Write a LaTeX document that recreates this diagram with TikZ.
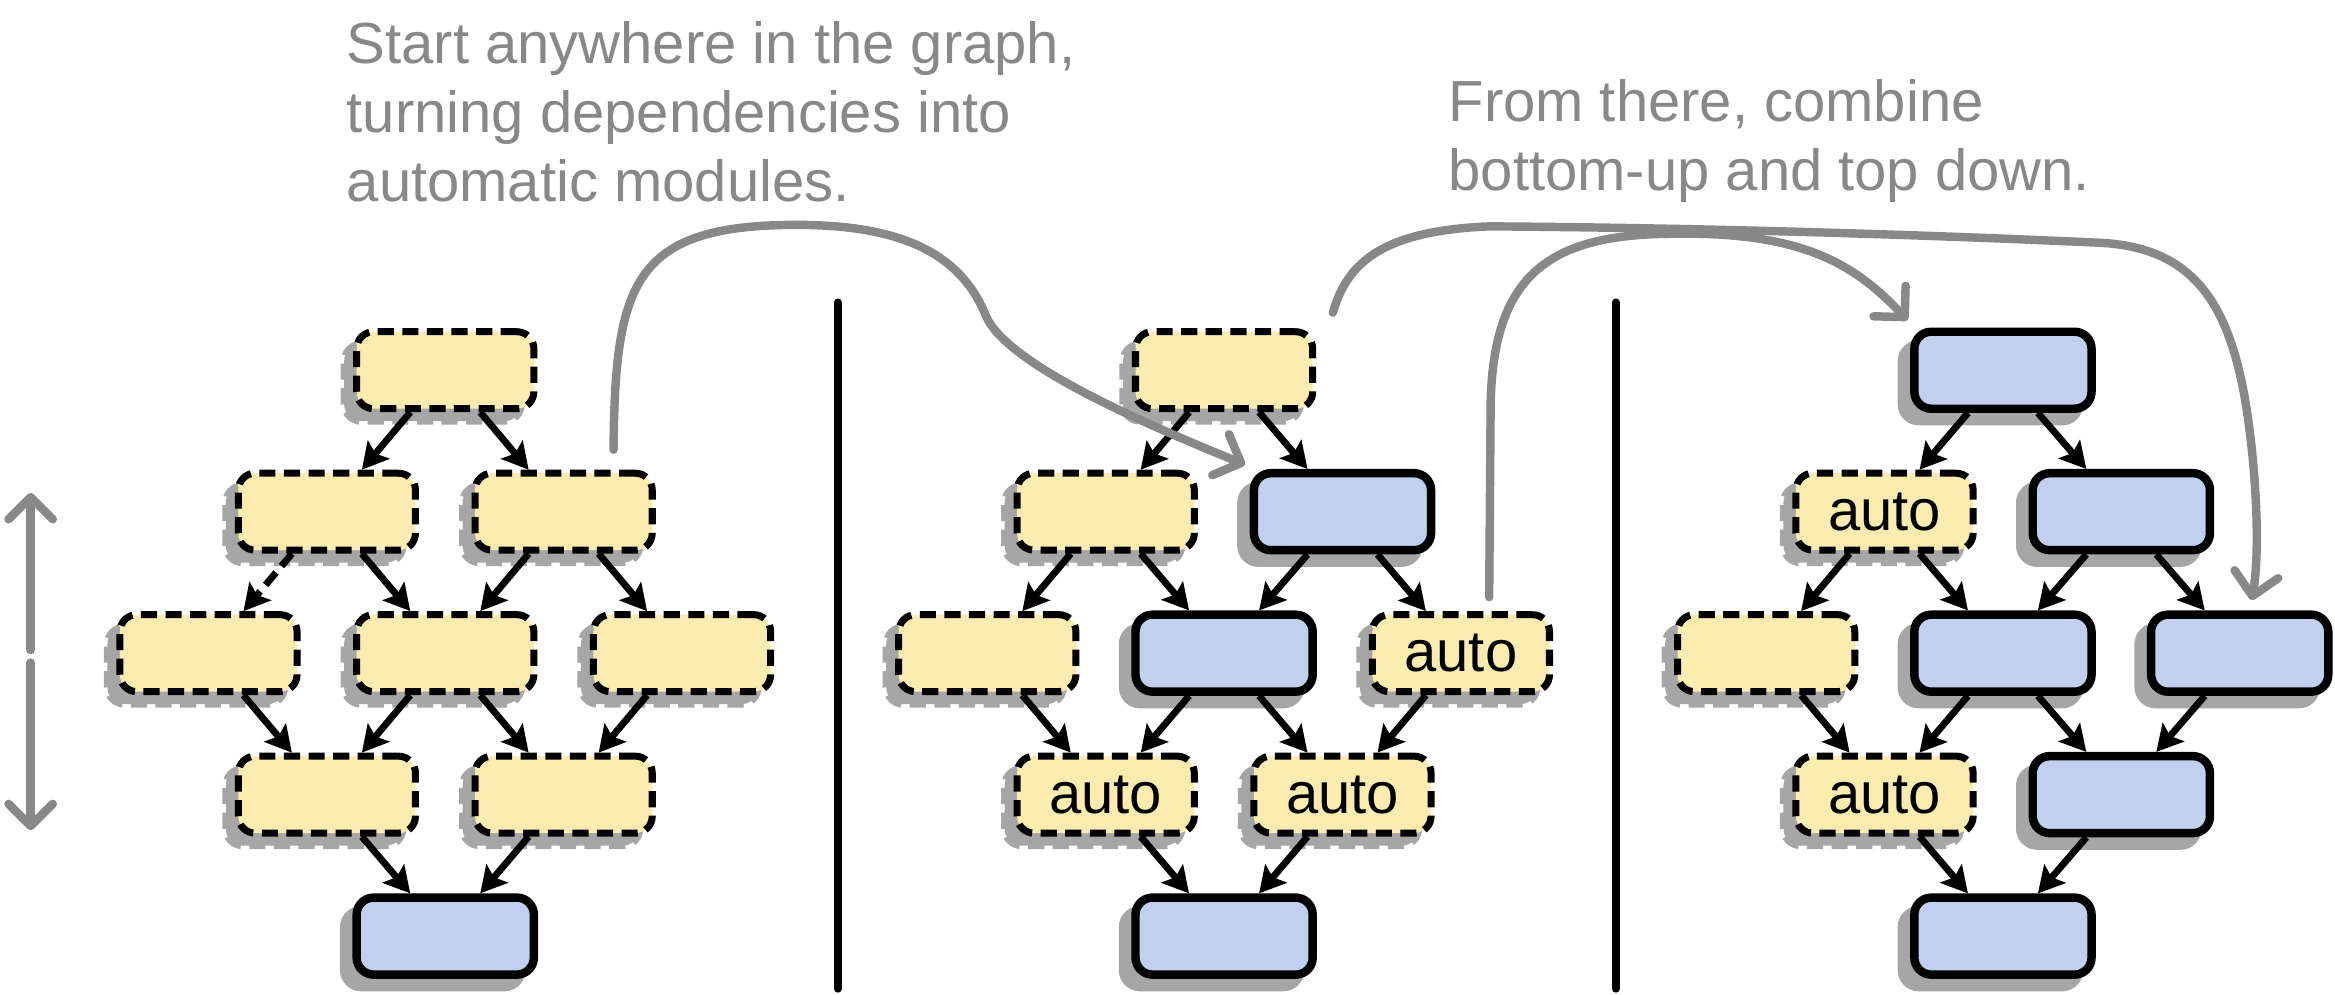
\documentclass[tikz,border=0pt]{standalone}
\usepackage{fontspec}
\setmainfont{Liberation Sans}
\usetikzlibrary{arrows.meta,shadows,calc}
\definecolor{ymod}{HTML}{FDECB0}
\definecolor{bmod}{HTML}{C0D0EE}
\definecolor{shadowgray}{HTML}{A6A6A6}
\definecolor{hintgray}{HTML}{888888}
\tikzset{
  modbox/.style={rounded corners=1.7mm, minimum width=1.772cm, minimum height=0.77cm,
    inner sep=0pt, font=\fontsize{16.5}{19.8}\selectfont, text=black,
    general shadow={fill=shadowgray, draw=shadowgray, shadow xshift=-1.25mm, shadow yshift=-1.25mm}},
  ybox/.style={modbox, draw=black, line width=2pt, dash pattern=on 4.6pt off 2.4pt, fill=ymod},
  bbox/.style={modbox, draw=black, line width=2.4pt, fill=bmod},
  dep/.style={draw=black, line width=1.95pt, -{Stealth[length=7.4pt, width=8pt, inset=1.4pt]}},
  hint/.style={draw=hintgray, line width=2.4pt, line cap=round,
    -{Straight Barb[length=6.3pt, width=12.6pt, round]}},
  sep/.style={draw=black, line width=2.2pt, line cap=round},
  note/.style={anchor=base west, inner sep=0pt, text=hintgray, font=\fontsize{16.5}{19.8}\selectfont},
}
\newcommand\depL[3][]{\draw[dep,#1] ($(#2.south)+(-23.5,0)$) -- ($(#3.north)+(23.5,0)$);}
\newcommand\depR[3][]{\draw[dep,#1] ($(#2.south)+(23.5,0)$) -- ($(#3.north)+(-23.5,0)$);}
\begin{document}
\begin{tikzpicture}[x=0.014892cm, y=-0.014892cm]
\useasboundingbox (0,0) rectangle (1568,668);

% ---------- texts ----------
\node[note] (t1) at (232.4,42.5) {Start anywhere in the graph,};
\node[note] (t2) at (232.4,89) {turning dependencies into};
\node[note] (t3) at (232.4,135.5) {automatic modules.};
\node[note] (t4) at (972.3,81.5) {From there, combine};
\node[note] (t5) at (972.3,128) {bottom-up and top down.};

% ---------- separators ----------
\coordinate (s1a) at (562.5,203); \coordinate (s1b) at (562.5,664);
\coordinate (s2a) at (1085,203);  \coordinate (s2b) at (1085,664);
\draw[sep] (s1a) -- (s1b);
\draw[sep] (s2a) -- (s2b);

% ---------- graph 1 ----------
\node[ybox] (a1) at (299,248.6) {};
\node[ybox] (a2) at (219.5,343.6) {};
\node[ybox] (a3) at (378.5,343.6) {};
\node[ybox] (a4) at (140,438.6) {};
\node[ybox] (a5) at (299,438.6) {};
\node[ybox] (a6) at (458,438.6) {};
\node[ybox] (a7) at (219.5,533.6) {};
\node[ybox] (a8) at (378.5,533.6) {};
\node[bbox] (a9) at (299,628.6) {};
\depL{a1}{a2} \depR{a1}{a3}
\depL[dash pattern=on 4.6pt off 2.4pt]{a2}{a4} \depR{a2}{a5}
\depL{a3}{a5} \depR{a3}{a6}
\depR{a4}{a7}
\depL{a5}{a7} \depR{a5}{a8}
\depL{a6}{a8}
\depR{a7}{a9} \depL{a8}{a9}

% ---------- graph 2 ----------
\node[ybox] (b1) at (822,248.6) {};
\node[ybox] (b2) at (742.5,343.6) {};
\node[bbox] (b3) at (901.5,343.6) {};
\node[ybox] (b4) at (663,438.6) {};
\node[bbox] (b5) at (822,438.6) {};
\node[ybox] (b6) at (981,438.6) {auto};
\node[ybox] (b7) at (742.5,533.6) {auto};
\node[ybox] (b8) at (901.5,533.6) {auto};
\node[bbox] (b9) at (822,628.6) {};
\depL{b1}{b2} \depR{b1}{b3}
\depL{b2}{b4} \depR{b2}{b5}
\depL{b3}{b5} \depR{b3}{b6}
\depR{b4}{b7}
\depL{b5}{b7} \depR{b5}{b8}
\depL{b6}{b8}
\depR{b7}{b9} \depL{b8}{b9}

% ---------- graph 3 ----------
\node[bbox] (c1) at (1345,248.6) {};
\node[ybox] (c2) at (1265.5,343.6) {auto};
\node[bbox] (c3) at (1424.5,343.6) {};
\node[ybox] (c4) at (1186,438.6) {};
\node[bbox] (c5) at (1345,438.6) {};
\node[bbox] (c6) at (1504,438.6) {};
\node[ybox] (c7) at (1265.5,533.6) {auto};
\node[bbox] (c8) at (1424.5,533.6) {};
\node[bbox] (c9) at (1345,628.6) {};
\depL{c1}{c2} \depR{c1}{c3}
\depL{c2}{c4} \depR{c2}{c5}
\depL{c3}{c5} \depR{c3}{c6}
\depR{c4}{c7}
\depL{c5}{c7} \depR{c5}{c8}
\depL{c6}{c8}
\depR{c7}{c9} \depL{c8}{c9}

% ---------- up/down arrow ----------
\coordinate (ua) at (20.6,436.5); \coordinate (ub) at (20.6,331);
\coordinate (da) at (20.6,445);   \coordinate (db) at (20.6,557.5);
\draw[hint] (ua) -- (ub);
\draw[hint] (da) -- (db);

% ---------- gray hint curves ----------
\coordinate (h1s) at (412,302);
\draw[hint] (h1s) .. controls (413,190) and (425,151) .. (535,151)
  .. controls (605,151) and (645,170) .. (662,212)
  .. controls (676,245) and (770,285) .. (836,312);

\coordinate (h2s) at (895,210);
\draw[hint] (h2s) .. controls (905,175) and (930,155) .. (1000,152)
  .. controls (1150,153) and (1300,158) .. (1410,163)
  .. controls (1470,166) and (1495,200) .. (1507,265)
  .. controls (1515,310) and (1518,370) .. (1512,403);

\coordinate (h3s) at (1000,401);
\draw[hint] (h3s) -- (1001,270)
  .. controls (1003,185) and (1040,158) .. (1120,157)
  .. controls (1210,155) and (1245,177) .. (1281,215);
\end{tikzpicture}
\end{document}
